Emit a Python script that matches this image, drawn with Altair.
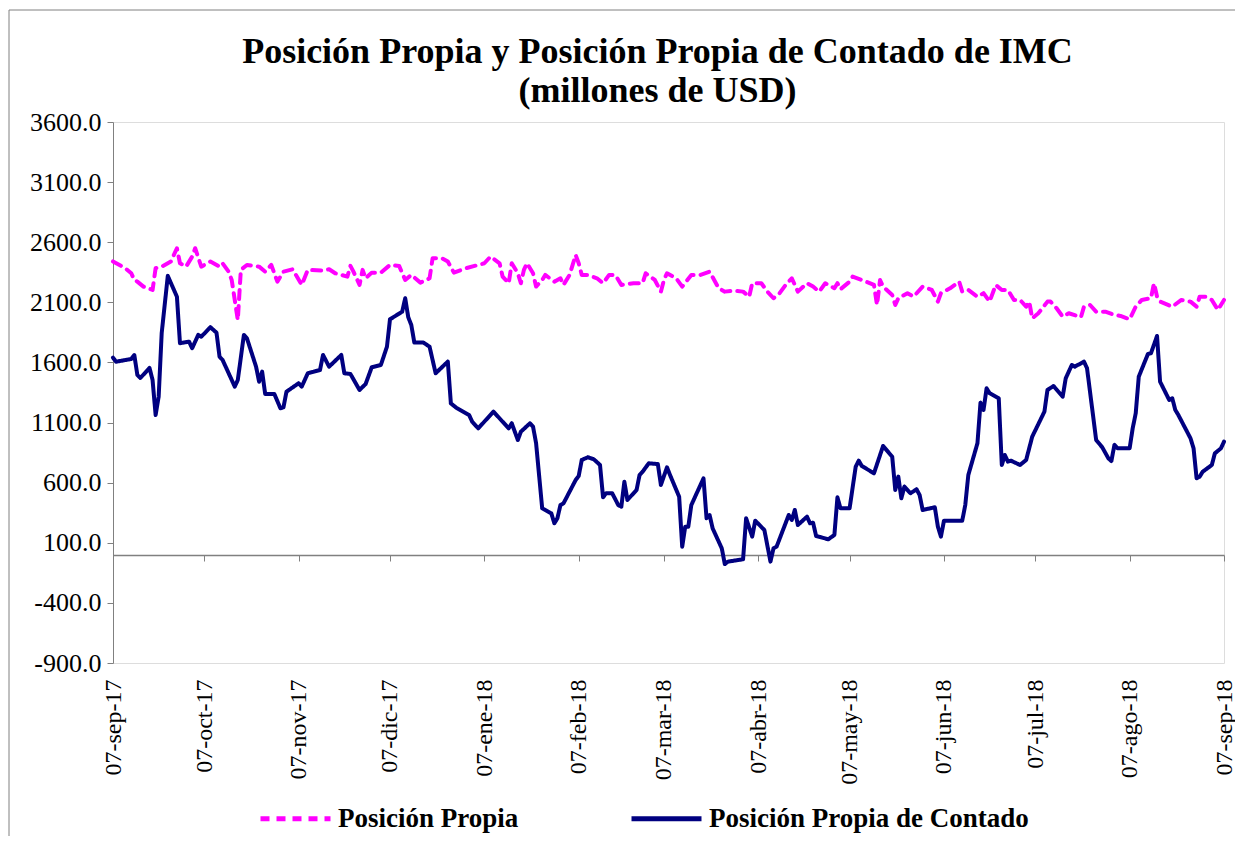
import json
import altair as alt
import pandas as pd

# ---------------- data ----------------
START = "2017-09-07"
series = ["Posición Propia", "Posición Propia de Contado"]
colores = ["#FF00FF", "#000080"]

propia_dias = [0, 4, 6, 7, 8, 10, 13, 14, 16, 19, 21, 22, 24, 26, 27, 29, 32, 35, 36, 38,
               39, 41, 42, 44, 48, 50, 52, 54, 56, 59, 62, 64, 69, 71, 73, 77, 78, 79, 81, 82,
               83, 85, 88, 91, 94, 96, 98, 101, 104, 105, 108, 110, 112, 116, 120, 122, 124, 127, 128, 130,
               131, 133, 134, 135, 136, 138, 139, 141, 142, 145, 147, 148, 150, 152, 153, 154, 156, 159, 161, 163,
               165, 167, 171, 174, 175, 178, 180, 181, 182, 185, 187, 190, 193, 196, 199, 201, 204, 207, 209, 210,
               213, 215, 217, 219, 221, 223, 225, 228, 230, 232, 234, 237, 238, 239, 242, 243, 246, 250, 251, 252,
               253, 256, 257, 258, 261, 263, 266, 269, 271, 272, 275, 278, 279, 281, 284, 286, 288, 290, 292, 294,
               295, 296, 298, 300, 301, 302, 304, 307, 308, 310, 312, 314, 318, 319, 321, 323, 326, 329, 331, 334,
               336, 338, 341, 342, 343, 344, 348, 351, 354, 356, 357, 359, 361, 363, 365]
propia_valores = [2440, 2384, 2342, 2286, 2272, 2231, 2203, 2384, 2397, 2439, 2550, 2425, 2397, 2480, 2550, 2397, 2439, 2397, 2425, 2355,
                  2286, 1953, 2370, 2411, 2397, 2355, 2411, 2272, 2355, 2375, 2245, 2370, 2364, 2375, 2342, 2314, 2403, 2355, 2245, 2370,
                  2300, 2347, 2347, 2411, 2403, 2286, 2328, 2264, 2300, 2467, 2467, 2439, 2347, 2384, 2411, 2425, 2480, 2425, 2314, 2259,
                  2425, 2342, 2259, 2370, 2425, 2342, 2231, 2286, 2328, 2272, 2300, 2245, 2328, 2494, 2425, 2328, 2328, 2300, 2259, 2328,
                  2328, 2245, 2259, 2259, 2342, 2286, 2189, 2286, 2342, 2300, 2231, 2328, 2328, 2355, 2217, 2189, 2197, 2189, 2147, 2259,
                  2259, 2189, 2134, 2176, 2245, 2300, 2189, 2259, 2231, 2189, 2259, 2217, 2259, 2209, 2272, 2314, 2286, 2245, 2078, 2286,
                  2231, 2161, 2078, 2134, 2176, 2147, 2231, 2203, 2106, 2176, 2217, 2272, 2189, 2203, 2147, 2176, 2106, 2245, 2203, 2203,
                  2161, 2120, 2120, 2064, 2106, 1967, 2009, 2106, 2106, 2051, 1981, 2009, 1976, 2064, 2078, 2022, 2022, 1995, 1987, 1959,
                  2064, 2120, 2134, 2259, 2147, 2106, 2064, 2120, 2106, 2064, 2147, 2147, 2120, 2037, 2120]

contado_dias = [0, 1, 6, 7, 8, 9, 12, 13, 14, 15, 16, 18, 21, 22, 25, 26, 28, 29, 32, 34,
                35, 36, 40, 41, 43, 44, 47, 48, 49, 50, 53, 55, 56, 57, 61, 62, 64, 68, 69, 71,
                75, 76, 78, 81, 83, 85, 88, 90, 91, 95, 96, 97, 98, 99, 102, 104, 106, 110, 111, 113,
                117, 118, 120, 125, 128, 130, 131, 133, 134, 137, 138, 139, 141, 144, 145, 146, 147, 148, 152, 153,
                154, 156, 158, 160, 161, 162, 164, 166, 167, 168, 169, 172, 173, 174, 176, 179, 180, 182, 183, 186,
                187, 188, 189, 190, 194, 195, 196, 197, 200, 201, 202, 207, 208, 210, 211, 214, 216, 217, 218, 222,
                223, 224, 225, 228, 229, 230, 231, 235, 237, 238, 239, 242, 244, 245, 246, 250, 253, 256, 257, 258,
                259, 260, 262, 264, 265, 266, 270, 271, 272, 273, 279, 280, 281, 284, 285, 286, 287, 288, 291, 292,
                293, 294, 295, 298, 300, 302, 306, 307, 309, 312, 313, 315, 316, 319, 320, 323, 325, 327, 328, 329,
                330, 334, 335, 336, 337, 340, 341, 343, 344, 347, 348, 349, 350, 354, 355, 356, 357, 358, 361, 362,
                364, 365]
contado_valores = [1640, 1606, 1629, 1662, 1496, 1471, 1554, 1454, 1163, 1315, 1845, 2320, 2147, 1760, 1773, 1718, 1829, 1814, 1893, 1848,
                   1648, 1621, 1399, 1454, 1829, 1801, 1565, 1440, 1523, 1338, 1338, 1219, 1227, 1357, 1427, 1399, 1510, 1537, 1662, 1565,
                   1662, 1510, 1504, 1371, 1421, 1560, 1579, 1731, 1959, 2022, 2134, 1976, 1912, 1765, 1765, 1731, 1510, 1607, 1260, 1219,
                   1163, 1107, 1052, 1191, 1107, 1052, 1094, 955, 1024, 1094, 1066, 928, 387, 345, 262, 304, 414, 428, 622, 656,
                   789, 811, 794, 747, 478, 512, 512, 414, 400, 608, 456, 539, 664, 691, 761, 755, 581, 728, 664, 483,
                   67, 234, 234, 414, 636, 304, 331, 220, 54, -77, -57, -37, 304, 151, 284, 206, -57, 54, 67, 331,
                   290, 373, 248, 317, 262, 267, 156, 129, 165, 478, 387, 387, 733, 783, 739, 678, 905, 816, 539, 650,
                   470, 567, 512, 545, 497, 373, 395, 234, 151, 284, 284, 414, 664, 928, 1265, 1205, 1385, 1344, 1302, 747,
                   830, 775, 783, 747, 789, 983, 1191, 1371, 1404, 1315, 1468, 1579, 1565, 1607, 1552, 955, 894, 803, 780, 914,
                   886, 886, 1052, 1177, 1482, 1670, 1676, 1820, 1440, 1288, 1302, 1205, 1163, 969, 886, 636, 650, 691, 747, 844,
                   886, 941]

tick_fechas = ["2017-09-07", "2017-10-07", "2017-11-07", "2017-12-07", "2018-01-07", "2018-02-07",
               "2018-03-07", "2018-04-07", "2018-05-07", "2018-06-07", "2018-07-07", "2018-08-07", "2018-09-07"]
meses = ["ene", "feb", "mar", "abr", "may", "jun", "jul", "ago", "sep", "oct", "nov", "dic"]
y_min, y_max, y_paso = -900, 3600, 500

# ---------------- table ----------------
inicio = pd.Timestamp(START)
df = pd.concat([
    pd.DataFrame({"fecha": inicio + pd.to_timedelta(propia_dias, unit="D"),
                  "valor": propia_valores, "serie": series[0]}),
    pd.DataFrame({"fecha": inicio + pd.to_timedelta(contado_dias, unit="D"),
                  "valor": contado_valores, "serie": series[1]}),
], ignore_index=True)
df["fecha"] = df["fecha"].dt.strftime("%Y-%m-%dT00:00:00")


def dt(s):
    y, m, d = (int(p) for p in s.split("-"))
    return alt.DateTime(year=y, month=m, date=d)


tick_vals = [dt(s) for s in tick_fechas]
x_scale = alt.Scale(domain=[dt(tick_fechas[0]), dt(tick_fechas[-1])], nice=False)
y_scale = alt.Scale(domain=[y_min, y_max], nice=False, zero=False)
y_vals = list(range(y_min, y_max + 1, y_paso))

W, H = 1111, 541
FONT = "Liberation Serif"
GRAY = "#808080"

label_expr = ("timeFormat(datum.value, '%d') + '-' + " + json.dumps(meses) +
              "[month(datum.value)] + '-' + timeFormat(datum.value, '%y')")

x_axis = alt.Axis(orient="bottom", values=tick_vals, labelExpr=label_expr, labelAngle=-90,
                  ticks=False, domain=False, grid=False, title=None, labelPadding=16,
                  labelFont=FONT, labelFontSize=24, labelColor="black", labelOverlap=False)
zero_axis = alt.Axis(orient="bottom", values=tick_vals, labels=False, ticks=True, tickSize=6,
                     tickColor=GRAY, domain=True, domainColor=GRAY, domainWidth=1.5, grid=False,
                     title=None, offset=-round(H * (0 - y_min) / (y_max - y_min)))
y_axis = alt.Axis(values=y_vals, grid=False, title=None, tickSize=6,
                  labelExpr="(datum.value < 0 ? '-' : '') + format(abs(datum.value), '.1f')",
                  tickColor=GRAY, domainColor=GRAY, labelPadding=6,
                  labelFont=FONT, labelFontSize=26, labelColor="black")

leg = alt.Legend(orient="none", legendX=145, legendY=659, direction="horizontal", title=None,
                 symbolType="stroke", symbolSize=4900, symbolStrokeWidth=5,
                 labelFont=FONT, labelFontSize=27, labelFontWeight="bold", labelColor="black",
                 labelLimit=600, labelOffset=5, columnPadding=102)

lines = alt.Chart(df).mark_line(strokeWidth=4, strokeCap="round", strokeJoin="round").encode(
    x=alt.X("fecha:T", scale=x_scale, axis=x_axis),
    y=alt.Y("valor:Q", scale=y_scale, axis=y_axis),
    color=alt.Color("serie:N", scale=alt.Scale(domain=series, range=colores), legend=leg),
    strokeDash=alt.StrokeDash("serie:N", scale=alt.Scale(domain=series, range=[[9, 7], [1, 0]]), legend=leg),
    order=alt.Order("fecha:T"),
)

zero_layer = alt.Chart(df).mark_line(opacity=0).encode(
    x=alt.X("fecha:T", scale=x_scale, axis=zero_axis),
    y=alt.Y("valor:Q", scale=y_scale),
    detail="serie:N",
)

frame = alt.Chart(alt.Data(values=[{}])).mark_rect(fill="transparent", stroke=GRAY, strokeWidth=1).encode(
    x=alt.value(-104), x2=alt.value(W + 200), y=alt.value(-112), y2=alt.value(H + 300)
)

chart = alt.layer(zero_layer, lines, frame).resolve_axis(x="independent").properties(
    width=W, height=H,
    title=alt.TitleParams(["Posición Propia y Posición Propia de Contado de IMC", "(millones de USD)"],
                          font=FONT, fontSize=36, fontWeight="bold", color="black",
                          anchor="middle", offset=0, lineHeight=39, dx=-11, dy=100),
    padding={"left": 105, "top": 114, "right": 11, "bottom": 173},
    autosize=alt.AutoSizeParams(type="none"),
).configure_view(stroke=GRAY, strokeWidth=1.5).configure(background="white")

chart.save("out.html", embed_options={"renderer": "svg", "actions": False})
